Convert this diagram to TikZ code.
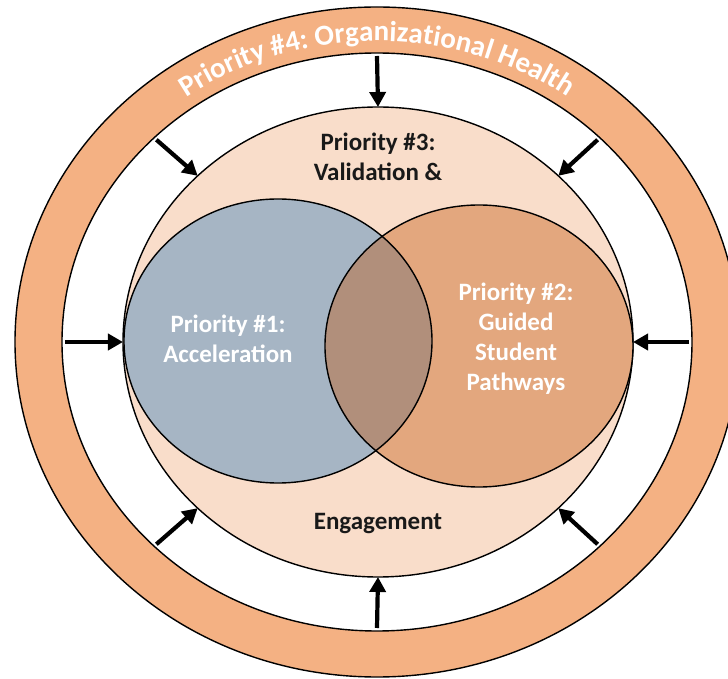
\documentclass[tikz,border=0pt]{standalone}
\usepackage{fontspec}
\setmainfont{Carlito}
\usetikzlibrary{arrows.meta,decorations.text,calc}
\definecolor{ringorange}{HTML}{F4B183}
\definecolor{paleorange}{HTML}{F9DDCA}
\definecolor{greyblue}{HTML}{A6B5C4}
\definecolor{midorange}{HTML}{E3A77E}
\definecolor{overlap}{HTML}{B18F7B}
\begin{document}
\begin{tikzpicture}[x=1pt,y=1pt]
\tikzstyle{outline}=[draw=black,line width=1.4pt]
\tikzstyle{push}=[line width=4.2pt,-{Triangle[length=15pt,width=16pt]}]
\tikzstyle{label}=[font=\bfseries\fontsize{25}{30}\selectfont,align=center,inner sep=0pt]
\useasboundingbox (-377,-337) rectangle (351,342);
\fill[ringorange,even odd rule] (0,0) ellipse[x radius=362,y radius=335] (0,0) ellipse[x radius=315,y radius=289];
\draw[outline] (0,0) ellipse[x radius=362,y radius=335];
\draw[outline] (0,0) ellipse[x radius=315,y radius=289];
\path[decorate,decoration={text along path,text align=center,text color=white,
  text={|\bfseries\fontsize{29}{29}\selectfont|Priority {\#}4: Organizational Health}}]
  (160:327 and 301) arc[start angle=160,end angle=20,x radius=327,y radius=301];
\draw[outline,fill=paleorange] (1,0) ellipse[x radius=255,y radius=235];
\coordinate (c1) at (-99,1);
\coordinate (c2) at (102,-4);
\fill[greyblue] (c1) ellipse[x radius=154,y radius=142];
\fill[midorange] (c2) ellipse[x radius=154,y radius=141];
\begin{scope}
\clip (c1) ellipse[x radius=154,y radius=142];
\fill[overlap] (c2) ellipse[x radius=154,y radius=141];
\end{scope}
\draw[outline] (c1) ellipse[x radius=154,y radius=142];
\draw[outline] (c2) ellipse[x radius=154,y radius=141];
\foreach \a in {0,45,90,135,180,225,270,315}{
  \coordinate (o\a) at (\a:312 and 286);
  \coordinate (m\a) at ($(1,0)+(\a:255 and 235)$);
  \draw[push] (o\a) -- (m\a);
}
\node[label,text=black!90] (p3) at (1,185) {Priority \#3:\\Validation \&};
\node[label,text=black!90] (eng) at (1,-182) {Engagement};
\node[label,text=white] (p1) at (-149,3) {Priority \#1:\\Acceleration};
\node[label,text=white] (p2) at (139,3) {Priority \#2:\\Guided\\Student\\Pathways};
\end{tikzpicture}
\end{document}
